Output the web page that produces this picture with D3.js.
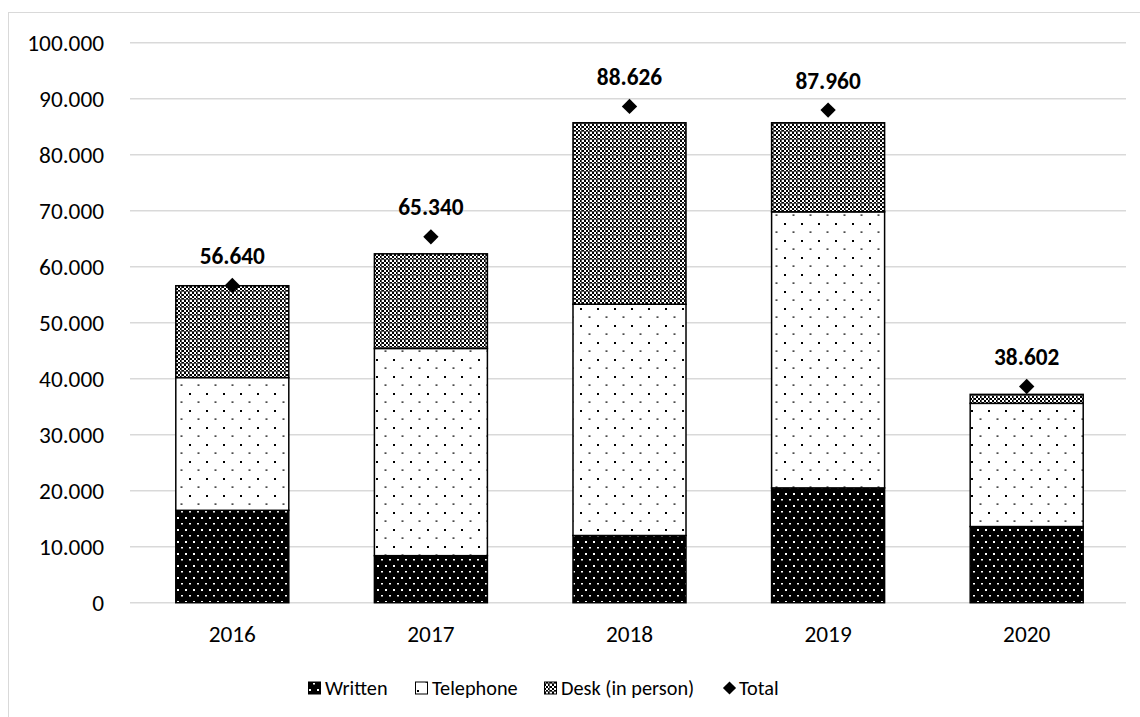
<!DOCTYPE html>
<html>
<head>
<meta charset="utf-8">
<script src="https://cdn.jsdelivr.net/npm/d3@7"></script>
<style>
  html, body { margin: 0; padding: 0; background: #fff; }
  svg { display: block; font-family: Carlito, Calibri, Lato, "Open Sans", sans-serif; }
</style>
</head>
<body>
<svg id="chart" width="1140" height="717"></svg>
<script>
// Requests handled per year, split by channel
const years = ["2016", "2017", "2018", "2019", "2020"];
const written = [16500, 8400, 12000, 20500, 13600];
const telephone = [23700, 37000, 41300, 49300, 22000];
const desk = [16400, 16900, 32400, 15900, 1600];
const totals = [56640, 65340, 88626, 87960, 38602];
const yTicks = [0, 10000, 20000, 30000, 40000, 50000, 60000, 70000, 80000, 90000, 100000];
const seriesNames = ["Written", "Telephone", "Desk (in person)"];
const totalName = "Total";

const svg = d3.select("#chart");
const W = 1140, H = 717;
const margin = { left: 133, right: 14, top: 42.7, bottom: 114.3 };
const FONT = "Carlito, Calibri, Lato, 'Open Sans', sans-serif";
const axisSize = 23.3, legendSize = 20.3;

const fmt = d3.formatLocale({ decimal: ",", thousands: ".", grouping: [3], currency: ["", ""] }).format(",.0f");

// Chart frame
svg.append("rect")
  .attr("x", 8.5).attr("y", 12.5)
  .attr("width", W).attr("height", H)
  .attr("fill", "none").attr("stroke", "#d9d9d9").attr("stroke-width", 1);

// Fill patterns
const defs = svg.append("defs");

const pW = defs.append("pattern").attr("id", "pat-written")
  .attr("patternUnits", "userSpaceOnUse").attr("width", 8).attr("height", 12);
pW.append("rect").attr("width", 8).attr("height", 12).attr("fill", "#000");
pW.append("rect").attr("x", 1).attr("y", 1).attr("width", 2).attr("height", 2).attr("fill", "#fff");
pW.append("rect").attr("x", 5).attr("y", 7).attr("width", 2).attr("height", 1.5).attr("fill", "#fff");

const pT = defs.append("pattern").attr("id", "pat-telephone")
  .attr("patternUnits", "userSpaceOnUse").attr("width", 17).attr("height", 17);
pT.append("rect").attr("width", 17).attr("height", 17).attr("fill", "#fff");
pT.append("rect").attr("x", 2).attr("y", 2).attr("width", 2).attr("height", 2).attr("fill", "#000");
pT.append("rect").attr("x", 10.5).attr("y", 10.5).attr("width", 2).attr("height", 1.2).attr("fill", "#000");

const pD = defs.append("pattern").attr("id", "pat-desk")
  .attr("patternUnits", "userSpaceOnUse").attr("width", 16).attr("height", 16);
pD.append("rect").attr("width", 16).attr("height", 16).attr("fill", "#fff");
for (let i = 0; i < 8; i++) {
  for (let j = 0; j < 8; j++) {
    if ((i + j) % 2 === 0) {
      pD.append("rect").attr("x", i * 2).attr("y", j * 2).attr("width", 2).attr("height", 2).attr("fill", "#000");
    }
  }
}
pD.append("rect").attr("x", 5).attr("y", 0).attr("width", 1).attr("height", 16).attr("fill", "#555");
pD.append("rect").attr("x", 13).attr("y", 0).attr("width", 1).attr("height", 16).attr("fill", "#555");
pD.append("rect").attr("x", 0).attr("y", 3).attr("width", 16).attr("height", 1).attr("fill", "#555");
pD.append("rect").attr("x", 0).attr("y", 11).attr("width", 16).attr("height", 1).attr("fill", "#555");
pD.append("rect").attr("x", 8).attr("y", 6).attr("width", 2).attr("height", 2).attr("fill", "#fff");
pD.append("rect").attr("x", 0).attr("y", 14).attr("width", 2).attr("height", 2).attr("fill", "#fff");

const fills = ["url(#pat-written)", "url(#pat-telephone)", "url(#pat-desk)"];

// Scales
const x = d3.scaleBand()
  .domain(years)
  .range([margin.left, W - margin.right])
  .paddingInner(0.431)
  .paddingOuter(0.2155);

const y = d3.scaleLinear()
  .domain([0, 100000])
  .range([H - margin.bottom, margin.top]);

// Gridlines
svg.append("g").selectAll("line")
  .data(yTicks)
  .join("line")
  .attr("x1", margin.left - 3).attr("x2", W - margin.right)
  .attr("y1", d => y(d)).attr("y2", d => y(d))
  .attr("stroke", "#d9d9d9").attr("stroke-width", 1.5);

// Y axis labels
const yAxis = d3.axisLeft(y).tickValues(yTicks).tickFormat(d => fmt(d)).tickSize(0).tickPadding(0);
const gy = svg.append("g").attr("transform", "translate(104,0)").call(yAxis);
gy.select(".domain").remove();
gy.selectAll("text").attr("font-size", axisSize).attr("fill", "#000")
  .attr("font-family", FONT);

// X axis labels
const xAxis = d3.axisBottom(x).tickSize(0).tickPadding(0);
const gx = svg.append("g").attr("transform", `translate(0,${y(0) + 39.3})`).call(xAxis);
gx.select(".domain").remove();
gx.selectAll("text").attr("font-size", axisSize).attr("fill", "#000")
  .attr("font-family", FONT)
  .attr("dy", "0");

// Stacked bars
const rows = years.map((yr, i) => ({ year: yr, Written: written[i], Telephone: telephone[i], "Desk (in person)": desk[i] }));
const stacked = d3.stack().keys(seriesNames)(rows);

svg.append("g").selectAll("g")
  .data(stacked)
  .join("g")
  .attr("fill", (d, i) => fills[i])
  .selectAll("rect")
  .data(d => d)
  .join("rect")
  .attr("x", d => x(d.data.year))
  .attr("width", x.bandwidth())
  .attr("y", d => y(d[1]))
  .attr("height", d => y(d[0]) - y(d[1]))
  .attr("stroke", "#000")
  .attr("stroke-width", 1.5);

// Totals: diamond markers with labels
const diamond = d3.symbol().type(d3.symbolDiamond2).size(150);
svg.append("g").selectAll("path")
  .data(totals)
  .join("path")
  .attr("d", diamond)
  .attr("transform", (d, i) => `translate(${x(years[i]) + x.bandwidth() / 2},${y(d)})`)
  .attr("fill", "#000");

svg.append("g").selectAll("text")
  .data(totals)
  .join("text")
  .attr("x", (d, i) => x(years[i]) + x.bandwidth() / 2)
  .attr("y", d => y(d) - 21.5)
  .attr("text-anchor", "middle")
  .attr("font-size", axisSize)
  .attr("font-weight", "bold")
  .attr("fill", "#000")
  .text(d => fmt(d));

// Legend
const legendItems = [
  { name: seriesNames[0], fill: fills[0], x: 308, kind: "box" },
  { name: seriesNames[1], fill: fills[1], x: 415, kind: "box" },
  { name: seriesNames[2], fill: fills[2], x: 544, kind: "box" },
  { name: totalName, fill: "#000", x: 723, kind: "diamond" }
];
const ly = 688;
const lg = svg.append("g").selectAll("g").data(legendItems).join("g")
  .attr("transform", d => `translate(${d.x},${ly})`);
lg.filter(d => d.kind === "box").append("rect")
  .attr("x", 0.5).attr("y", -6).attr("width", 12).attr("height", 12)
  .attr("fill", d => d.fill).attr("stroke", "#000").attr("stroke-width", 1);
lg.filter(d => d.kind === "diamond").append("path")
  .attr("d", d3.symbol().type(d3.symbolDiamond2).size(110))
  .attr("transform", "translate(6.5,0)")
  .attr("fill", "#000");
lg.append("text")
  .attr("x", d => d.kind === "diamond" ? 16 : 17)
  .attr("y", 0)
  .attr("dy", "0.35em")
  .attr("font-size", legendSize)
  .attr("fill", "#000")
  .text(d => d.name);
</script>
</body>
</html>
